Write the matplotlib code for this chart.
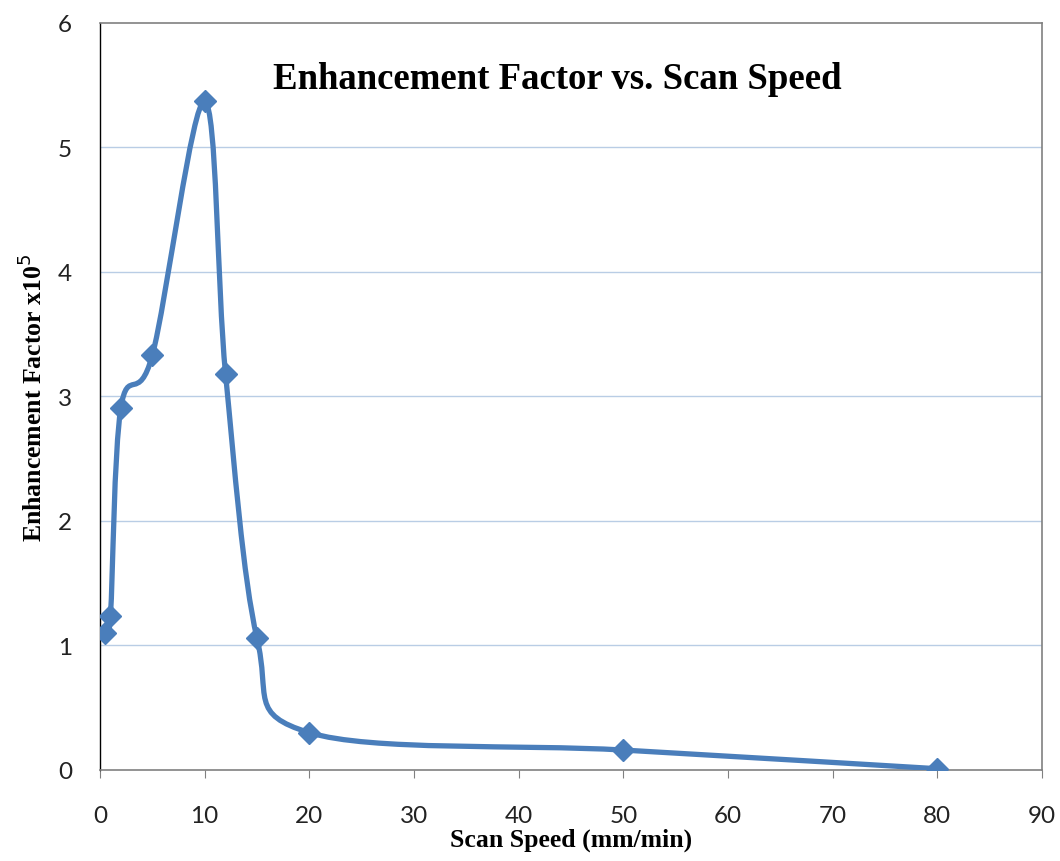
import numpy as np
import matplotlib.pyplot as plt
from matplotlib.path import Path
from matplotlib.patches import PathPatch

# scan speed (mm/min) vs enhancement factor (x10^5)
speed = [0.5, 1, 2, 5, 10, 12, 15, 20, 50, 80]
factor = [1.10, 1.24, 2.91, 3.33, 5.37, 3.18, 1.06, 0.30, 0.16, 0.01]

x_ticks = list(range(0, 91, 10))
y_ticks = list(range(0, 7))

blue = '#4a7ebb'


def smooth_path(xs, ys):
    # excel-like smoothed line: catmull-rom segments as cubic beziers
    pts = np.column_stack([xs, ys]).astype(float)
    n = len(pts)
    verts = [pts[0]]
    codes = [Path.MOVETO]
    for i in range(n - 1):
        p0 = pts[i - 1] if i > 0 else pts[i]
        p1 = pts[i]
        p2 = pts[i + 1]
        p3 = pts[i + 2] if i + 2 < n else pts[i + 1]
        c1 = p1 + (p2 - p0) / 6.0
        c2 = p2 - (p3 - p1) / 6.0
        verts += [c1, c2, p2]
        codes += [Path.CURVE4] * 3
    return Path(verts, codes)


fig = plt.figure(figsize=(10.6, 8.62), dpi=100)
ax = fig.add_axes([0.0943, 0.1056, 0.8887, 0.8666])

ax.set_xlim(0, 90)
ax.set_ylim(0, 6)
ax.set_xticks(x_ticks)
ax.set_yticks(y_ticks)
ax.tick_params(axis='x', direction='out', length=6, color='#808080',
               labelsize=17.5, pad=19)
ax.tick_params(axis='y', length=0, labelsize=17.5, pad=20)
for lab in ax.get_xticklabels() + ax.get_yticklabels():
    lab.set_family('Lato')
    lab.set_color('#222222')

for v in y_ticks[1:-1]:
    ax.axhline(v, color='#b9cde5', lw=1, zorder=1)

for s in ax.spines.values():
    s.set_color('#808080')
    s.set_linewidth(1.2)
ax.spines['left'].set_color('#000000')
ax.spines['left'].set_linewidth(1)

ax.add_patch(PathPatch(smooth_path(speed, factor), fill=False,
                       edgecolor=blue, lw=3.8, zorder=3, capstyle='round'))
ax.plot(speed, factor, linestyle='none', marker='D', markersize=11,
        color=blue, zorder=4)

ax.text(0.485, 0.925, 'Enhancement Factor vs. Scan Speed', transform=ax.transAxes,
        ha='center', va='center', family='Liberation Serif',
        fontweight='bold', fontsize=26.5)

ax.set_xlabel('Scan Speed (mm/min)', family='Liberation Serif',
              fontweight='bold', fontsize=18.5, labelpad=1)
ax.set_ylabel(r'Enhancement Factor x10$^{5}$', family='Liberation Serif',
              fontweight='bold', fontsize=18.5, labelpad=8)

plt.savefig('out.png', dpi=100)
